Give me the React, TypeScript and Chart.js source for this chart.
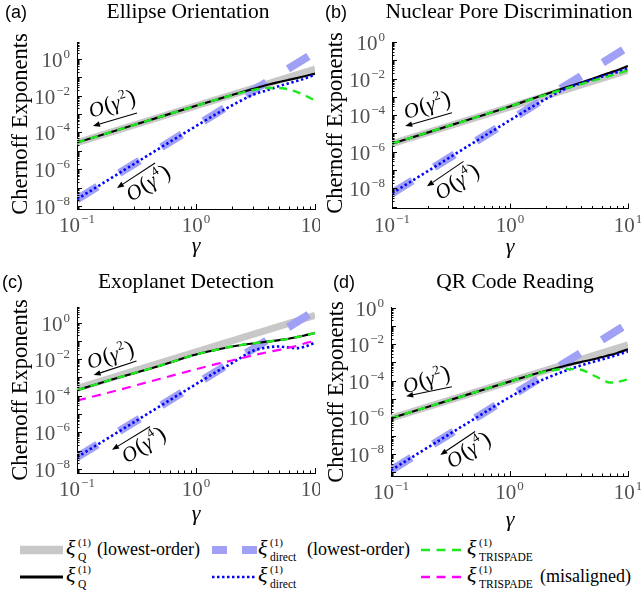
import React, { useEffect, useRef } from "react";
import { Chart, registerables } from "chart.js";

Chart.register(...registerables);

const SERIF = '"Liberation Serif", "DejaVu Serif", serif';
const SANS = '"Liberation Sans", Arial, sans-serif';

// ---------------- data ----------------
const gammaLowest = [0.1, 10];
const gammaSamples = [0.1, 0.2, 0.5, 1, 1.5, 2, 3, 4, 5, 6, 7, 8, 10];

// (a) Ellipse Orientation
const ellipseQLowest = [2.8e-5, 0.28];
const ellipseDirectLowest = [2.3e-8, 2.3];
const ellipseQ = [2.8e-5, 1.12e-4, 7e-4, 2.8e-3, 6.2e-3, 1.08e-2, 2.3e-2, 3.9e-2, 5.5e-2, 7.2e-2, 9e-2, 0.11, 0.16];
const ellipseDirect = [2.3e-8, 3.7e-7, 1.44e-5, 2.2e-4, 1.05e-3, 2.9e-3, 1.1e-2, 2.0e-2, 3.3e-2, 4.7e-2, 6.2e-2, 8e-2, 0.14];
const ellipseTrispade = [2.8e-5, 1.12e-4, 7e-4, 2.8e-3, 6.2e-3, 1.05e-2, 2.0e-2, 2.6e-2, 2.6e-2, 2.2e-2, 1.6e-2, 1.1e-2, 5.6e-3];

// (b) Nuclear Pore Discrimination
const poreQLowest = [2.8e-6, 2.8e-2];
const poreDirectLowest = [5.4e-9, 0.54];
const poreQ = [2.8e-6, 1.12e-5, 7.2e-5, 3.0e-4, 7.5e-4, 1.4e-3, 3.3e-3, 6.1e-3, 9.8e-3, 1.5e-2, 2.1e-2, 2.8e-2, 4.8e-2];
const poreDirect = [5.4e-9, 8.6e-8, 3.4e-6, 5.3e-5, 2.6e-4, 7.5e-4, 2.9e-3, 5.6e-3, 8.8e-3, 1.25e-2, 1.7e-2, 2.2e-2, 3.5e-2];
const poreTrispade = [2.8e-6, 1.12e-5, 7.2e-5, 3.0e-4, 7.2e-4, 1.3e-3, 2.9e-3, 5e-3, 7.5e-3, 1.05e-2, 1.4e-2, 1.8e-2, 2.8e-2];

// (c) Exoplanet Detection
const exoQLowest = [2.5e-4, 2.5];
const exoDirectLowest = [4.4e-8, 4.4];
const exoQ = [2e-4, 8e-4, 4.4e-3, 1.8e-2, 3.3e-2, 4.9e-2, 7.2e-2, 9e-2, 0.11, 0.13, 0.16, 0.19, 0.27];
const exoDirect = [4.4e-8, 7e-7, 2.75e-5, 4.3e-4, 2.1e-3, 6e-3, 2.8e-2, 4.4e-2, 4.9e-2, 4.3e-2, 4e-2, 4.6e-2, 8e-2];
const exoTrispade = [2e-4, 8e-4, 4.4e-3, 1.8e-2, 3.3e-2, 4.9e-2, 7.2e-2, 9e-2, 0.11, 0.13, 0.16, 0.19, 0.27];
const exoMisaligned = [5.5e-5, 1.7e-4, 8.5e-4, 2.8e-3, 5.5e-3, 8.5e-3, 1.6e-2, 2.4e-2, 3.2e-2, 4.2e-2, 5.3e-2, 7e-2, 0.1];

// (d) QR Code Reading
const qrQLowest = [9e-7, 9e-3];
const qrDirectLowest = [1.3e-9, 0.13];
const qrQ = [9e-7, 3.6e-6, 2.25e-5, 9e-5, 2e-4, 3.4e-4, 6.8e-4, 1.05e-3, 1.45e-3, 1.95e-3, 2.5e-3, 3.2e-3, 5.2e-3];
const qrDirect = [1.3e-9, 2.1e-8, 8e-7, 1.25e-5, 5.5e-5, 1.3e-4, 3.6e-4, 6.8e-4, 1.05e-3, 1.45e-3, 1.9e-3, 2.5e-3, 4e-3];
const qrTrispade = [9e-7, 3.6e-6, 2.25e-5, 9e-5, 1.95e-4, 3.2e-4, 4.4e-4, 4e-4, 2.1e-4, 1.2e-4, 8e-5, 8.5e-5, 1.2e-4];

const xRange = [0.1, 10];
const xTickExponents = [-1, 0, 1];
const yTickExponents = [0, -2, -4, -6, -8];

// ---------------- styles ----------------
const C_Q_LOWEST = "#c8c8c8";
const C_DIRECT_LOWEST = "#a0a0f6";
const C_Q = "#000000";
const C_DIRECT = "#0000ff";
const C_TRISPADE = "#1ee81e";
const C_MISALIGNED = "#ff00ff";

type Series = { x: number[]; y: number[]; color: string; width: number; dash?: number[]; smooth?: boolean; order: number };

function seriesSet(qLow: number[], dirLow: number[], q: number[], dir: number[], tri: number[], mis?: number[]): Series[] {
  const s: Series[] = [
    { x: gammaLowest, y: qLow, color: C_Q_LOWEST, width: 7, order: 6 },
    { x: gammaLowest, y: dirLow, color: C_DIRECT_LOWEST, width: 8, dash: [24, 25.6], order: 5 },
    { x: gammaSamples, y: q, color: C_Q, width: 2.2, order: 4, smooth: true },
    { x: gammaSamples, y: dir, color: C_DIRECT, width: 2.6, dash: [2.4, 2.6], order: 3, smooth: true },
    { x: gammaSamples, y: tri, color: C_TRISPADE, width: 2.4, dash: [8, 6], order: 1, smooth: true },
  ];
  if (mis) s.push({ x: gammaSamples, y: mis, color: C_MISALIGNED, width: 2.2, dash: [9, 6.5], order: 2, smooth: true });
  return s;
}

type Ann = { a2: number[]; t2: number[]; a4: number[]; t4: number[] };
type PanelCfg = {
  letter: string; title: string;
  left: number; top: number; width: number; height: number;
  area: { left: number; top: number; right: number; bottom: number };
  yMin: number; yMax: number;
  letterX: number; titleX: number; yLabelX: number; yLabelY: number; xLabelX: number; xLabelY: number;
  series: Series[]; ann: Ann;
};

const panels: PanelCfg[] = [
  {
    letter: "(a)", title: "Ellipse Orientation",
    left: 0, top: 0, width: 320, height: 270,
    area: { left: 77, top: 42, right: 315, bottom: 209 },
    yMin: Math.pow(10, -8.17), yMax: Math.pow(10, 0.92),
    letterX: 5, titleX: 188, yLabelX: 21, yLabelY: 124, xLabelX: 196, xLabelY: 249,
    series: seriesSet(ellipseQLowest, ellipseDirectLowest, ellipseQ, ellipseDirect, ellipseTrispade),
    ann: { a2: [0.252, 0.425, 0.067, 0.503], t2: [0.147, 0.371, 18], a4: [0.328, 0.725, 0.168, 0.874], t4: [0.298, 0.844, 33] },
  },
  {
    letter: "(b)", title: "Nuclear Pore Discrimination",
    left: 320, top: 0, width: 321, height: 270,
    area: { left: 72, top: 42, right: 308, bottom: 208.5 },
    yMin: Math.pow(10, -9.1), yMax: 1,
    letterX: 5, titleX: 189, yLabelX: 16.5, yLabelY: 123, xLabelX: 190, xLabelY: 250,
    series: seriesSet(poreQLowest, poreDirectLowest, poreQ, poreDirect, poreTrispade),
    ann: { a2: [0.254, 0.425, 0.056, 0.505], t2: [0.148, 0.379, 18], a4: [0.303, 0.717, 0.148, 0.867], t4: [0.275, 0.838, 33] },
  },
  {
    letter: "(c)", title: "Exoplanet Detection",
    left: 0, top: 270, width: 320, height: 265,
    area: { left: 77, top: 37, right: 315, bottom: 203 },
    yMin: Math.pow(10, -8.22), yMax: Math.pow(10, 0.85),
    letterX: 2, titleX: 186, yLabelX: 21, yLabelY: 120, xLabelX: 196, xLabelY: 247,
    series: seriesSet(exoQLowest, exoDirectLowest, exoQ, exoDirect, exoTrispade, exoMisaligned),
    ann: { a2: [0.25, 0.325, 0.07, 0.41], t2: [0.14, 0.29, 18], a4: [0.307, 0.72, 0.147, 0.86], t4: [0.279, 0.83, 33] },
  },
  {
    letter: "(d)", title: "QR Code Reading",
    left: 320, top: 270, width: 321, height: 265,
    area: { left: 71, top: 37.5, right: 308, bottom: 206 },
    yMin: Math.pow(10, -9.2), yMax: 1,
    letterX: 13, titleX: 195, yLabelX: 17.5, yLabelY: 122, xLabelX: 190, xLabelY: 253,
    series: seriesSet(qrQLowest, qrDirectLowest, qrQ, qrDirect, qrTrispade),
    ann: { a2: [0.257, 0.47, 0.064, 0.526], t2: [0.149, 0.428, 18], a4: [0.355, 0.736, 0.208, 0.875], t4: [0.327, 0.845, 33] },
  },
];

// ---------------- drawing helpers ----------------
function logTicks(min: number, max: number) {
  const out: { v: number; major: boolean }[] = [];
  for (let e = Math.floor(Math.log10(min)); e <= Math.ceil(Math.log10(max)); e++) {
    for (let m = 1; m <= 9; m++) {
      const v = m * Math.pow(10, e);
      if (v >= min * 0.9999 && v <= max * 1.0001) out.push({ v, major: m === 1 });
    }
  }
  return out;
}

function makeDecor(cfg: PanelCfg) {
  return {
    id: "decor",
    afterDraw(chart: any) {
      const { ctx, chartArea: ca } = chart;
      const xs = chart.scales.x;
      const ys = chart.scales.y;
      ctx.save();
      ctx.strokeStyle = "#000";
      ctx.lineWidth = 1;
      for (const t of logTicks(xs.min, xs.max)) {
        const px = Math.round(xs.getPixelForValue(t.v)) + 0.5;
        if (px < ca.left - 1 || px > ca.right + 1) continue;
        const len = t.major ? 5 : 2.5;
        ctx.beginPath(); ctx.moveTo(px, ca.bottom); ctx.lineTo(px, ca.bottom - len); ctx.stroke();
      }
      for (const t of logTicks(ys.min, ys.max)) {
        const py = Math.round(ys.getPixelForValue(t.v)) + 0.5;
        if (py < ca.top - 1 || py > ca.bottom + 1) continue;
        const len = t.major ? 5 : 2.5;
        ctx.beginPath(); ctx.moveTo(ca.left, py); ctx.lineTo(ca.left + len, py); ctx.stroke();
      }
      const baseFont = `21px ${SERIF}`;
      const supFont = `13px ${SERIF}`;
      const drawPow = (exp: number, x: number, y: number, align: string) => {
        const sup = exp < 0 ? "\u2212" + -exp : String(exp);
        ctx.font = baseFont; const w1 = ctx.measureText("10").width;
        ctx.font = supFont; const w2 = ctx.measureText(sup).width;
        const total = w1 + 1 + w2;
        const x0 = align === "center" ? x - total / 2 : x - total;
        ctx.fillStyle = "#505050";
        ctx.textAlign = "left"; ctx.textBaseline = "alphabetic";
        ctx.font = baseFont; ctx.fillText("10", x0, y);
        ctx.font = supFont; ctx.fillText(sup, x0 + w1 + 1, y - 9);
      };
      for (const e of xTickExponents) {
        const v = Math.pow(10, e);
        if (v < xs.min * 0.999 || v > xs.max * 1.001) continue;
        drawPow(e, xs.getPixelForValue(v), ca.bottom + 23, "center");
      }
      for (const e of yTickExponents) {
        const v = Math.pow(10, e);
        if (v < ys.min * 0.999 || v > ys.max * 1.001) continue;
        drawPow(e, ca.left - 7, ys.getPixelForValue(v) + 8, "right");
      }
      ctx.fillStyle = "#000";
      ctx.textBaseline = "alphabetic";
      ctx.textAlign = "left";
      ctx.font = `18px ${SANS}`;
      ctx.fillText(cfg.letter, cfg.letterX, 18);
      ctx.textAlign = "center";
      ctx.font = `21.5px ${SERIF}`;
      ctx.fillText(cfg.title, cfg.titleX, 18);
      ctx.font = `italic 22px ${SERIF}`;
      ctx.fillText("\u03b3", cfg.xLabelX, cfg.xLabelY + 2.5);
      ctx.save();
      ctx.translate(cfg.yLabelX, cfg.yLabelY);
      ctx.rotate(-Math.PI / 2);
      ctx.textBaseline = "middle";
      ctx.font = `22.5px ${SERIF}`;
      ctx.fillText("Chernoff Exponents", 0, 0);
      ctx.restore();
      const fx = (f: number) => ca.left + f * (ca.right - ca.left);
      const fy = (f: number) => ca.top + f * (ca.bottom - ca.top);
      const arrow = (a: number[]) => {
        const x1 = fx(a[0]), y1 = fy(a[1]), x2 = fx(a[2]), y2 = fy(a[3]);
        const ang = Math.atan2(y2 - y1, x2 - x1);
        const hl = 7, hw = 2.8;
        const bx = x2 - hl * Math.cos(ang), by = y2 - hl * Math.sin(ang);
        ctx.strokeStyle = "#000"; ctx.fillStyle = "#000"; ctx.lineWidth = 1.1;
        ctx.beginPath(); ctx.moveTo(x1, y1); ctx.lineTo(bx, by); ctx.stroke();
        ctx.beginPath(); ctx.moveTo(x2, y2);
        ctx.lineTo(bx - hw * Math.sin(ang), by + hw * Math.cos(ang));
        ctx.lineTo(bx + hw * Math.sin(ang), by - hw * Math.cos(ang));
        ctx.closePath(); ctx.fill();
      };
      const order = (t: number[], pow: string) => {
        ctx.save();
        ctx.translate(fx(t[0]), fy(t[1]));
        ctx.rotate((-t[2] * Math.PI) / 180);
        const parts = [
          { s: "O", f: `italic 21px ${SERIF}`, dy: 0, gap: 1 },
          { s: "(", f: `23px ${SERIF}`, dy: 0, gap: 0 },
          { s: "\u03b3", f: `italic 21px ${SERIF}`, dy: 0, gap: 1 },
          { s: pow, f: `13px ${SERIF}`, dy: -9, gap: 1 },
          { s: ")", f: `23px ${SERIF}`, dy: 0, gap: 0 },
        ];
        let total = 0;
        const ws = parts.map((p) => { ctx.font = p.f; const w = ctx.measureText(p.s).width + p.gap; total += w; return w; });
        let x = -total / 2;
        ctx.fillStyle = "#000"; ctx.textAlign = "left"; ctx.textBaseline = "alphabetic";
        parts.forEach((p, i) => { ctx.font = p.f; ctx.fillText(p.s, x, 7 + p.dy); x += ws[i]; });
        ctx.restore();
      };
      arrow(cfg.ann.a2); order(cfg.ann.t2, "2");
      arrow(cfg.ann.a4); order(cfg.ann.t4, "4");
      ctx.restore();
    },
  };
}

function buildConfig(cfg: PanelCfg): any {
  return {
    type: "line",
    data: {
      datasets: cfg.series.map((s) => ({
        data: s.x.map((g, i) => ({ x: g, y: s.y[i] })),
        borderColor: s.color,
        backgroundColor: s.color,
        borderWidth: s.width,
        borderDash: s.dash || [],
        borderCapStyle: "butt",
        borderJoinStyle: "round",
        pointRadius: 0,
        pointHoverRadius: 0,
        fill: false,
        tension: 0,
        cubicInterpolationMode: s.smooth ? "monotone" : "default",
        order: s.order,
        clip: 0,
      })),
    },
    options: {
      responsive: false,
      animation: false,
      devicePixelRatio: 1,
      events: [],
      layout: { padding: { left: 0, top: cfg.area.top, right: cfg.width - cfg.area.right, bottom: 0 } },
      plugins: { legend: { display: false }, tooltip: { enabled: false }, title: { display: false } },
      scales: {
        x: {
          type: "logarithmic", min: xRange[0], max: xRange[1], bounds: "data",
          grid: { display: false }, border: { display: true, color: "#000", width: 1 },
          ticks: { display: false },
          afterFit: (s: any) => { s.height = cfg.height - cfg.area.bottom; },
        },
        y: {
          type: "logarithmic", min: cfg.yMin, max: cfg.yMax, bounds: "data",
          grid: { display: false }, border: { display: true, color: "#000", width: 1 },
          ticks: { display: false },
          afterFit: (s: any) => { s.width = cfg.area.left; },
        },
      },
    },
    plugins: [makeDecor(cfg)],
  };
}

function Panel({ cfg }: { cfg: PanelCfg }) {
  const ref = useRef<HTMLCanvasElement>(null);
  useEffect(() => {
    const chart = new Chart(ref.current as HTMLCanvasElement, buildConfig(cfg));
    return () => chart.destroy();
  }, [cfg]);
  return (
    <canvas
      ref={ref}
      width={cfg.width}
      height={cfg.height}
      style={{ position: "absolute", left: cfg.left, top: cfg.top, width: cfg.width, height: cfg.height }}
    />
  );
}

function Xi({ x, y, sub }: { x: number; y: number; sub: string }) {
  return (
    <g fontFamily={SERIF} fill="#000">
      <text x={x} y={y + 5} fontSize={22} fontStyle="italic">ξ</text>
      <text x={x + 12} y={y - 4.2} fontSize={11}>(1)</text>
      <text x={x + 12} y={y + 11.3} fontSize={11.5}>{sub}</text>
    </g>
  );
}

function Legend() {
  const r1 = 15;
  const r2 = 42;
  return (
    <svg width={641} height={62} style={{ position: "absolute", left: 0, top: 535 }}>
      <line x1={20} x2={63} y1={r1} y2={r1} stroke={C_Q_LOWEST} strokeWidth={8.6} />
      <line x1={212} x2={257} y1={r1} y2={r1} stroke={C_DIRECT_LOWEST} strokeWidth={8} strokeDasharray="15 15" />
      <line x1={421} x2={467} y1={r1} y2={r1} stroke={C_TRISPADE} strokeWidth={2.6} strokeDasharray="9 6.5" />
      <line x1={20} x2={63} y1={r2} y2={r2} stroke={C_Q} strokeWidth={3} />
      <line x1={212} x2={257} y1={r2} y2={r2} stroke={C_DIRECT} strokeWidth={2.6} strokeDasharray="2.5 2.5" />
      <line x1={421} x2={467} y1={r2} y2={r2} stroke={C_MISALIGNED} strokeWidth={2.6} strokeDasharray="9 6.5" />
      <Xi x={66} y={r1} sub="Q" />
      <text x={97} y={r1 + 5.4} fontFamily={SERIF} fontSize={18}>(lowest-order)</text>
      <Xi x={258} y={r1} sub="direct" />
      <text x={307} y={r1 + 5.4} fontFamily={SERIF} fontSize={18}>(lowest-order)</text>
      <Xi x={467} y={r1} sub="TRISPADE" />
      <Xi x={66} y={r2} sub="Q" />
      <Xi x={258} y={r2} sub="direct" />
      <Xi x={467} y={r2} sub="TRISPADE" />
      <text x={540} y={r2 + 5.4} fontFamily={SERIF} fontSize={18}>(misaligned)</text>
    </svg>
  );
}

export default function App() {
  return (
    <div style={{ position: "absolute", left: 0, top: 0, width: 641, height: 597, overflow: "hidden", background: "#fff" }}>
      {panels.map((p) => (
        <Panel key={p.letter} cfg={p} />
      ))}
      <Legend />
    </div>
  );
}
